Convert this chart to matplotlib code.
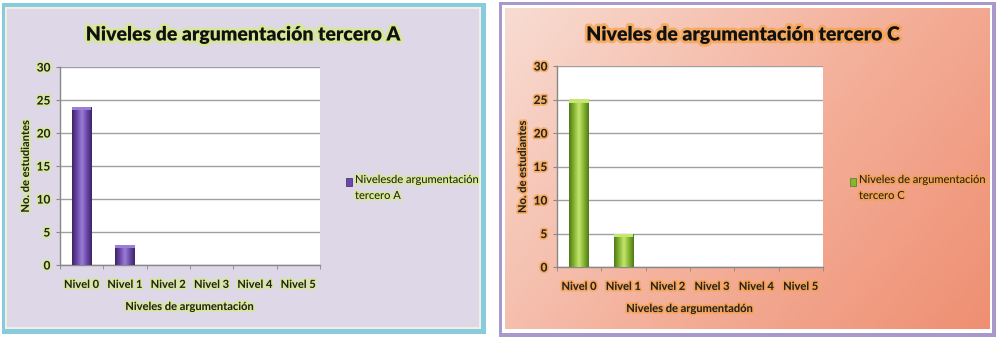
import numpy as np
import matplotlib
matplotlib.use("Agg")
import matplotlib.pyplot as plt
from matplotlib.patches import Rectangle
import matplotlib.patheffects as pe
from matplotlib.colors import LinearSegmentedColormap

categories = ["Nivel 0", "Nivel 1", "Nivel 2", "Nivel 3", "Nivel 4", "Nivel 5"]
values_a = [24, 3, 0, 0, 0, 0]
values_c = [25, 5, 0, 0, 0, 0]
yticks = [0, 5, 10, 15, 20, 25, 30]
title_a = "Niveles de argumentación tercero A"
title_c = "Niveles de argumentación tercero C"
xlabel_a = "Niveles de argumentación"
xlabel_c = "Niveles de argumentadón"
ylabel = "No. de estudiantes"
legend_a = "Nivelesde argumentación\ntercero A"
legend_c = "Niveles de argumentación\ntercero C"

FONT = ["Lato", "DejaVu Sans"]
W, H = 1000, 344
fig = plt.figure(figsize=(W / 100, H / 100), dpi=100)
fig.patch.set_facecolor("white")

def fx(x):
    return x / W

def fy(y):
    return 1 - y / H

bg = fig.add_axes([0, 0, 1, 1])
bg.set_xlim(0, W)
bg.set_ylim(H, 0)
bg.axis("off")

# Left panel: blue frame, lavender fill
bg.add_patch(Rectangle((2, 3), 484, 331, facecolor="#86CCDC", edgecolor="none"))
bg.add_patch(Rectangle((5, 7), 476, 322, facecolor="#F2EEE4", edgecolor="none"))
bg.add_patch(Rectangle((7, 9), 472, 318, facecolor="#DED7E8", edgecolor="none"))

# Right panel: purple frame, white line, salmon gradient
bg.add_patch(Rectangle((499, 2), 497, 335, facecolor="#A898CC", edgecolor="none"))
bg.add_patch(Rectangle((502, 5), 490, 328, facecolor="#FFFFFF", edgecolor="none"))
gx = np.linspace(0, 1, 200)
gy = np.linspace(0, 1, 100)
GX, GY = np.meshgrid(gx, gy)
grad = np.clip(0.65 * GX + 0.35 * GY, 0, 1)
cmap = LinearSegmentedColormap.from_list("salmon", ["#F8DCD2", "#F4B29D", "#EF8F72"])
bg.imshow(grad, cmap=cmap, extent=(505, 990, 329, 8), aspect="auto", zorder=1)

def glow(color, lw=2.5):
    return [pe.Stroke(linewidth=lw, foreground=color, alpha=0.7), pe.Normal()]

def draw_chart(px0, px1, py0, py1, values, color_dark, color_mid, color_light,
               glow_color, title, title_x, xlabel, legend_text, leg_x, leg_y):
    ax = fig.add_axes([fx(px0), fy(py1), fx(px1 - px0), (py1 - py0) / H])
    ax.set_facecolor("white")
    x = np.arange(len(categories))
    bars = ax.bar(x, values, width=0.44, color=color_mid, zorder=3,
                  edgecolor="none")
    cm = LinearSegmentedColormap.from_list("bar", [color_dark, color_mid, color_light,
                                                   color_mid, color_dark])
    grad_h = np.linspace(0, 1, 64).reshape(1, -1)
    for b in bars:
        if b.get_height() <= 0:
            continue
        x0, w, h = b.get_x(), b.get_width(), b.get_height()
        im = ax.imshow(grad_h, cmap=cm, extent=(x0, x0 + w, 0, h), aspect="auto",
                       zorder=4)
        im.set_clip_path(b)
        cap = Rectangle((x0, h - 0.45), w, 0.45, facecolor=color_light,
                        edgecolor="none", zorder=5)
        ax.add_patch(cap)
    ax.set_xlim(-0.5, len(categories) - 0.5)
    ax.set_ylim(0, 30)
    ax.set_yticks(yticks)
    ax.set_yticklabels([str(v) for v in yticks], fontsize=8.5, family=FONT,
                       fontweight="bold", color="#222222")
    for t in ax.get_yticklabels():
        t.set_path_effects(glow(glow_color))
    ax.set_xticks(x)
    ax.set_xticklabels(categories, fontsize=8, family=FONT, fontweight="bold",
                       color="#222222")
    for t in ax.get_xticklabels():
        t.set_path_effects(glow(glow_color))
    ax.set_xticks(np.arange(-0.5, len(categories), 1.0), minor=True)
    ax.tick_params(axis="x", which="major", length=0, pad=10)
    ax.tick_params(axis="x", which="minor", length=3, color="#888888")
    ax.tick_params(axis="y", length=3, color="#888888", pad=4)
    ax.yaxis.grid(True, color="#A0A0A0", linewidth=1.0, zorder=0)
    ax.set_axisbelow(True)
    for s in ["top", "right"]:
        ax.spines[s].set_visible(False)
    for s in ["left", "bottom"]:
        ax.spines[s].set_color("#888888")
        ax.spines[s].set_linewidth(1.0)
    ax.set_xlabel(xlabel, fontsize=8, family=FONT, fontweight="bold",
                  color="#222222", labelpad=8,
                  path_effects=glow(glow_color))
    ax.set_ylabel(ylabel, fontsize=8, family=FONT, fontweight="bold",
                  color="#222222", labelpad=4,
                  path_effects=glow(glow_color))
    fig.text(fx(title_x), fy(35), title, ha="center", va="center", fontsize=14,
             family=FONT, fontweight="heavy", color="#111111",
             path_effects=glow(glow_color, 4))
    fig.patches.append(Rectangle((fx(leg_x), fy(leg_y + 4)), 6 / W, 8 / H,
                                 transform=fig.transFigure, facecolor=color_mid,
                                 edgecolor=color_dark, linewidth=0.5))
    fig.text(fx(leg_x + 9), fy(leg_y - 8), legend_text, ha="left", va="top",
             fontsize=8, family=FONT, color="#222222", linespacing=1.55,
             path_effects=glow(glow_color))
    return ax

draw_chart(60, 320, 67, 265, values_a, "#3E2566", "#6A48A8", "#9B7ED6",
           "#D5EF7A", title_a, 243, xlabel_a, legend_a, 346, 182)
draw_chart(557, 823, 66, 267, values_c, "#4F7A18", "#86B532", "#C5E670",
           "#F5A040", title_c, 743, xlabel_c, legend_c, 850, 182)

fig.savefig("out.png", dpi=100)
